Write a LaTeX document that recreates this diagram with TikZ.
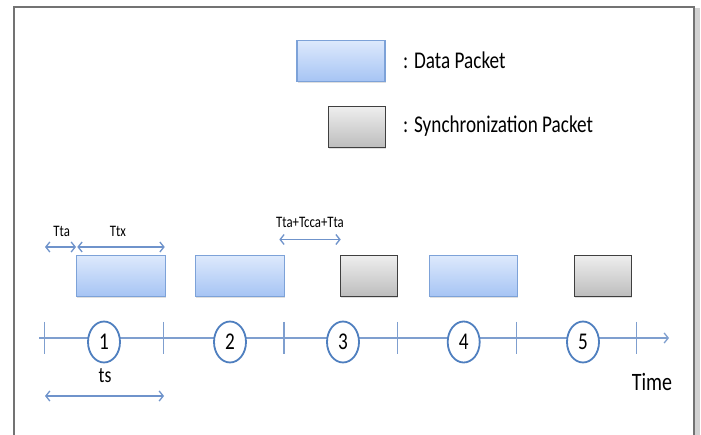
\documentclass[tikz,border=0pt]{standalone}
\usepackage{fontspec}
\setmainfont{Carlito}[FakeStretch=0.8]
\usetikzlibrary{arrows.meta,shapes.geometric,shadows}
\definecolor{axisblue}{HTML}{7F9FCF}
\definecolor{circblue}{HTML}{4F7FBF}
\definecolor{dimblue}{HTML}{6F93CB}
\definecolor{dtop}{HTML}{DDE9FC}
\definecolor{dbot}{HTML}{A6C4F4}
\definecolor{dborder}{HTML}{7DA2D8}
\definecolor{stopc}{HTML}{EEEEEE}
\definecolor{sbot}{HTML}{BDBDBD}
\definecolor{sborder}{HTML}{3F3F3F}
\tikzset{
  datapkt/.style={draw=dborder, line width=1.2pt, top color=dtop, bottom color=dbot,
    minimum height=41pt, inner sep=0pt, drop shadow={shadow xshift=0.6pt, shadow yshift=-1.6pt, opacity=0.25}},
  syncpkt/.style={draw=sborder, line width=1.2pt, top color=stopc, bottom color=sbot,
    minimum width=57pt, minimum height=41pt, inner sep=0pt, drop shadow={shadow xshift=0.6pt, shadow yshift=-1.6pt, opacity=0.25}},
  slot/.style={ellipse, draw=circblue, line width=1.8pt, fill=white, minimum width=32pt, minimum height=41pt, inner sep=0pt, font=\fontsize{24}{26}\selectfont},
  dim/.style={draw=dimblue, line width=1.3pt, {Straight Barb[length=4pt,width=10pt]}-{Straight Barb[length=4pt,width=10pt]}},
  lbl/.style={inner sep=0pt, font=\fontsize{16}{18}\selectfont},
  legendtxt/.style={anchor=west, inner sep=0pt, font=\fontsize{24}{26}\selectfont},
  tick/.style={draw=axisblue, line width=1.2pt}
}
\begin{document}
\begin{tikzpicture}[x=1pt,y=-1pt]
\useasboundingbox (0,0) rectangle (701,435);
\fill[white] (0,0) rectangle (701,435);
% frame with shadow
\fill[gray!35] (695,8) rectangle (700,440);
\draw[color=gray!90!black, line width=2pt] (14,440) -- (14,7) -- (694,7) -- (694,440);

% legend
\node[datapkt, minimum width=88pt] (ldata) at (341,61) {};
\node[syncpkt] (lsync) at (357,127) {};
\node[legendtxt] (tdata) at (403,60) {: Data Packet};
\node[legendtxt] (tsync) at (403,126) {: Synchronization Packet};

% packets
\node[datapkt, minimum width=88.6pt] (p1) at (121,276) {};
\node[datapkt, minimum width=88.3pt] (p2) at (240,276) {};
\node[syncpkt] (p3) at (369.3,276) {};
\node[datapkt, minimum width=88.4pt] (p4) at (473.5,276) {};
\node[syncpkt] (p5) at (603,276) {};

% axis
\coordinate (a0) at (39,338);
\coordinate (a1) at (669,338);
\draw[draw=axisblue, line width=1.3pt, -{Straight Barb[length=4pt,width=10pt]}] (a0) -- (a1);
\foreach \x in {44.3,163.7,284,397.7,516.7,636.7}{
  \draw[tick] (\x,322) -- (\x,354);
}
\node[slot] (s1) at (104,342) {1};
\node[slot] (s2) at (230,342) {2};
\node[slot] (s3) at (343,342) {3};
\node[slot] (s4) at (463.7,342) {4};
\node[slot] (s5) at (583,342) {5};
\node[inner sep=0pt, font=\fontsize{25}{27}\selectfont] (time) at (652,382) {Time};

% dimension arrows
\coordinate (ta0) at (45,247);
\coordinate (ta1) at (76,247);
\coordinate (tx1) at (164.7,247);
\coordinate (tc0) at (279.3,239.5);
\coordinate (tc1) at (340.7,239.5);
\coordinate (ts0) at (45,396);
\coordinate (ts1) at (164,396);
\draw[dim] (ta0) -- (ta1);
\draw[dim] ([xshift=1.3pt]ta1) -- (tx1);
\draw[dim] (tc0) -- (tc1);
\draw[dim] (ts0) -- (ts1);
\node[lbl] (ltta) at (61.7,231) {Tta};
\node[lbl] (lttx) at (118,231) {Ttx};
\node[lbl] (ltc) at (310,222) {Tta+Tcca+Tta};
\node[inner sep=0pt, font=\fontsize{22}{24}\selectfont] (lts) at (105,376) {ts};
\end{tikzpicture}
\end{document}
